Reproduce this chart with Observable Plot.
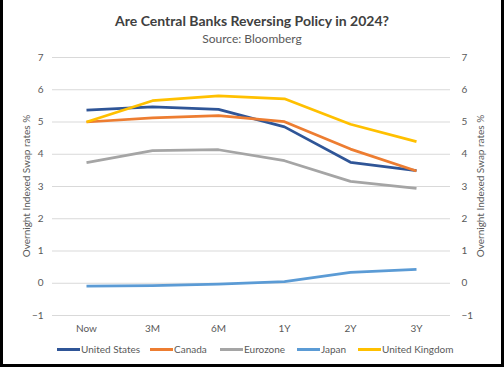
<!DOCTYPE html>
<html>
<head>
<meta charset="utf-8">
<script src="https://cdn.jsdelivr.net/npm/d3@7"></script>
<script src="https://cdn.jsdelivr.net/npm/@observablehq/plot@0.6"></script>
<style>
  html, body { margin: 0; padding: 0; background: #fff; }
  #wrap { position: relative; width: 504px; height: 367px; overflow: hidden; font-family: Lato, "Open Sans", sans-serif; background:#fff; }
  #frame { position: absolute; left: 0; top: -4px; width: 504px; height: 371px; box-sizing: border-box; border: 3px solid #000; pointer-events: none; }
  #title { position: absolute; top: 12px; left: 0; width: 504px; text-align: center; font-weight: bold; font-size: 14px; color: #404040; line-height: 18px; }
  #subtitle { position: absolute; top: 31px; left: 0; width: 504px; text-align: center; font-size: 12px; color: #595959; line-height: 15px; }
  #chart { position: absolute; top: 47px; left: 0; }
  .ytitle { position: absolute; font-size: 10px; color: #595959; white-space: nowrap; transform: translate(-50%, -50%) rotate(-90deg); line-height: 12px; }
  #legend { position: absolute; top: 342px; left: 0; width: 504px; height: 14px; font-size: 10px; color: #595959; }
  .item { position: absolute; top: 0; display: flex; align-items: center; line-height: 14px; }
  .sw { display: inline-block; width: 23px; height: 3px; margin-right: 1px; }
</style>
</head>
<body>
<div id="wrap">
  <div id="title">Are Central Banks Reversing Policy in 2024?</div>
  <div id="subtitle">Source: Bloomberg</div>
  <div id="chart"></div>
  <div class="ytitle" style="left:26px; top:186px;">Overnight Indexed Swap rates %</div>
  <div class="ytitle" style="left:480px; top:186px;">Overnight Indexed Swap rates %</div>
  <div id="legend"></div>
  <div id="frame"></div>
</div>
<script>
const periods = ["Now", "3M", "6M", "1Y", "2Y", "3Y"];
const unitedStates = [5.37, 5.47, 5.39, 4.85, 3.75, 3.49];
const canada = [5.00, 5.13, 5.20, 5.01, 4.16, 3.48];
const eurozone = [3.74, 4.11, 4.14, 3.80, 3.16, 2.94];
const japan = [-0.09, -0.07, -0.03, 0.05, 0.34, 0.43];
const unitedKingdom = [5.00, 5.66, 5.81, 5.72, 4.93, 4.39];
const seriesNames = ["United States", "Canada", "Eurozone", "Japan", "United Kingdom"];
const seriesColors = ["#2F5597", "#ED7D31", "#A5A5A5", "#5B9BD5", "#FFC000"];
const yTicks = [-1, 0, 1, 2, 3, 4, 5, 6, 7];

const seriesValues = [unitedStates, canada, eurozone, japan, unitedKingdom];
const data = [];
seriesNames.forEach((name, i) => {
  periods.forEach((p, j) => data.push({series: name, period: p, value: seriesValues[i][j]}));
});

const chart = Plot.plot({
  width: 504,
  height: 290,
  marginLeft: 52,
  marginRight: 54,
  marginTop: 10,
  marginBottom: 22,
  style: {fontFamily: "Lato, 'Open Sans', sans-serif", fontSize: "10px", color: "#595959", background: "transparent"},
  x: {type: "point", domain: periods, padding: 0.5},
  y: {domain: [-1, 7]},
  color: {domain: seriesNames, range: seriesColors},
  marks: [
    Plot.gridY(yTicks, {stroke: "#D9D9D9", strokeOpacity: 1, strokeWidth: 1}),
    Plot.axisY(yTicks, {anchor: "left", tickSize: 0, tickPadding: 9, label: null, fill: "#595959"}),
    Plot.axisY(yTicks, {anchor: "right", tickSize: 0, tickPadding: 11, label: null, fill: "#595959"}),
    Plot.axisX({tickSize: 0, tickPadding: 9, label: null, fill: "#595959"}),
    Plot.line(data, {x: "period", y: "value", z: "series", stroke: "series", strokeWidth: 2.75, strokeLinejoin: "round", strokeLinecap: "butt"})
  ]
});
document.getElementById("chart").appendChild(chart);

const legendX = [57, 150, 220, 297, 358];
const legend = document.getElementById("legend");
seriesNames.forEach((name, i) => {
  const it = document.createElement("div");
  it.className = "item";
  it.style.left = legendX[i] + "px";
  it.innerHTML = `<span class="sw" style="background:${seriesColors[i]}"></span><span>${name}</span>`;
  legend.appendChild(it);
});
</script>
</body>
</html>
